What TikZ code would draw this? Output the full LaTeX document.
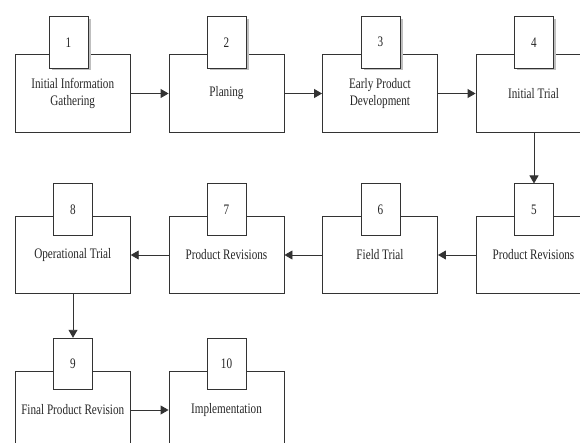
\documentclass[tikz,border=0pt]{standalone}
\usepackage{fontspec}
\setmainfont{Liberation Serif}
\newfontfamily\narrowserif[FakeStretch=0.77]{Liberation Serif}
\usetikzlibrary{arrows.meta,shadows}
\begin{document}
\begin{tikzpicture}[x=1pt,y=-1pt,
    stage/.style={draw=black!80,line width=0.9pt,minimum width=115pt,minimum height=77.5pt,
        align=center,inner sep=0pt,text=black!85,font=\narrowserif\fontsize{14.5}{17}\selectfont},
    tab/.style={draw=black!80,fill=white,line width=0.9pt,minimum width=39pt,minimum height=51.5pt,
        inner sep=0pt,text=black!85,font=\narrowserif\fontsize{14.5}{17}\selectfont},
    shade/.style={drop shadow={shadow xshift=2.5pt,shadow yshift=-2.5pt,fill=black!25,opacity=1}},
    flow/.style={draw=black!80,line width=0.9pt,-{Triangle[length=8pt,width=9pt]}}]
    \useasboundingbox (0,0) rectangle (580,443);
    \clip (0,0) rectangle (580,443);
    %% Row one
    \node[stage] (b1) at (72.75,93.5) {Initial Information\\Gathering};
    \node[stage] (b2) at (226.5,93.5) {Planing};
    \node[stage] (b3) at (380,93.5) {Early Product\\Development};
    \node[stage] (b4) at (533.5,93.5) {Initial Trial};
    %% Row two
    \node[stage] (b8) at (72.75,255) {Operational Trial};
    \node[stage] (b7) at (226.5,255) {Product Revisions};
    \node[stage] (b6) at (380,255) {Field Trial};
    \node[stage] (b5) at (533.5,255) {Product Revisions};
    %% Row three
    \node[stage] (b9) at (72.75,410) {Final Product Revision};
    \node[stage] (b10) at (226.5,410) {Implementation};
    %% Number tabs
    \node[tab,shade] (t1) at (68.5,42.25) {1};
    \node[tab,shade] (t2) at (226.5,42.25) {2};
    \node[tab,shade] (t3) at (380.5,42.25) {3};
    \node[tab,shade] (t4) at (534,42.25) {4};
    \node[tab] (t5) at (534,209.7) {5};
    \node[tab] (t6) at (380.5,209.7) {6};
    \node[tab] (t7) at (226.5,209.7) {7};
    \node[tab] (t8) at (73,209.7) {8};
    \node[tab] (t9) at (73,364) {9};
    \node[tab] (t10) at (226.5,364) {10};
    %% Arrows
    \draw[flow] (b1.east) -- (b2.west);
    \draw[flow] (b2.east) -- (b3.west);
    \draw[flow] (b3.east) -- (b4.west);
    \draw[flow] (b4.south -| t5.north) -- (t5.north);
    \draw[flow] (b5.west) -- (b6.east);
    \draw[flow] (b6.west) -- (b7.east);
    \draw[flow] (b7.west) -- (b8.east);
    \draw[flow] (b8.south -| t9.north) -- (t9.north);
    \draw[flow] (b9.east) -- (b10.west);
\end{tikzpicture}
\end{document}
